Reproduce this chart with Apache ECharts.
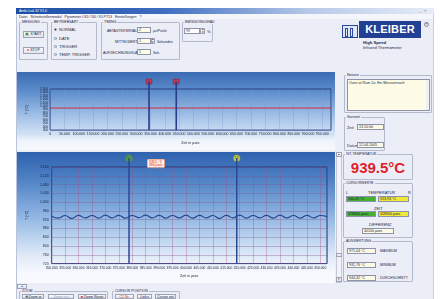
<!DOCTYPE html>
<html>
<head>
<meta charset="utf-8">
<script src="https://cdn.jsdelivr.net/npm/echarts@6/dist/echarts.min.js"></script>
<style>
  html, body { margin: 0; padding: 0; width: 440px; height: 299px; overflow: hidden; background: #fff; }
  body { position: relative; font-family: "Liberation Sans", Arial, sans-serif; color: #1c2541; }
  .a { position: absolute; }
  .t { position: absolute; font-size: 4px; line-height: 4px; white-space: nowrap; color: #1c2541; }
  .g { position: absolute; border: 1px solid #b4b9cc; border-radius: 1px; box-sizing: border-box; }
  .gl { position: absolute; font-size: 3.5px; line-height: 3.5px; background: #eceef7; padding: 0 1px; white-space: nowrap; color: #1c2541; }
  .in { position: absolute; box-sizing: border-box; border: 1px solid #8d93aa; background: #fff; font-size: 3.6px; line-height: 4px; padding-left: 1px; white-space: nowrap; overflow: hidden; }
  .cr { background: #fdfbe6; }
  .btn { position: absolute; box-sizing: border-box; border: 1px solid #9ea4b8; background: linear-gradient(#fafbfd, #dfe2ec); font-size: 3.6px; line-height: 5px; text-align: center; white-space: nowrap; }
  .rd { position: absolute; width: 3px; height: 3px; border-radius: 50%; border: 1px solid #7d8499; background: #fff; box-sizing: border-box; }
  .chart { position: absolute; }
</style>
</head>
<body>
<!-- window -->
<div class="a" style="left:16px;top:8px;width:418px;height:291px;background:#eceef7;border-left:1px solid #b9c3da;border-right:1px solid #c9d0e2;box-sizing:border-box"></div>
<div class="a" style="left:16px;top:8px;width:418px;height:6px;background:linear-gradient(to right,#1d4ea6 0%,#3d6cc0 35%,#b7c9e8 70%,#e6ecf7 100%)"></div>
<div class="t" style="left:19px;top:9px;color:#fff;font-size:3.5px">Ambi-Lsd-32 V1.0</div>
<div class="t" style="left:419px;top:9px;font-size:3.5px;color:#345">_ ▫ ×</div>
<div class="a" style="left:17px;top:14px;width:416px;height:5px;background:#f5f6fb"></div>
<div class="t" style="left:19px;top:14.5px;font-size:3.6px">Datei &nbsp; Schnittstellenmodul &nbsp; Pyrometer LSD 740 / KLP713 &nbsp; Einstellungen &nbsp; ?</div>

<!-- MESSUNG -->
<div class="g" style="left:19px;top:22px;width:29px;height:38px"></div>
<div class="gl" style="left:21px;top:20.5px">MESSUNG</div>
<div class="btn" style="left:23px;top:31px;width:21px;height:7px"><span style="color:#3a8a3a">▣</span> START</div>
<div class="btn" style="left:23px;top:47px;width:21px;height:7px"><span style="color:#d03030">●</span> STOP</div>

<!-- BETRIEBSART -->
<div class="g" style="left:51px;top:22px;width:46px;height:38px"></div>
<div class="gl" style="left:53px;top:20.5px">BETRIEBSART</div>
<div class="rd" style="left:54px;top:28px;background:radial-gradient(#234 35%,#fff 45%)"></div>
<div class="t" style="left:59px;top:28px">NORMAL</div>
<div class="rd" style="left:54px;top:36.5px"></div>
<div class="t" style="left:59px;top:36.5px">DATE</div>
<div class="rd" style="left:54px;top:45px"></div>
<div class="t" style="left:59px;top:45px">TRIGGER</div>
<div class="rd" style="left:54px;top:53px"></div>
<div class="t" style="left:59px;top:53px">TEMP. TRIGGER</div>

<!-- TIMING -->
<div class="g" style="left:101px;top:22px;width:79px;height:38px"></div>
<div class="gl" style="left:103px;top:20.5px">TIMING</div>
<div class="t" style="left:107px;top:28.5px;font-size:3.5px">ABTASTINTERVALL</div>
<div class="in cr" style="left:137px;top:27px;width:14px;height:6px">2</div>
<div class="t" style="left:153px;top:28.5px;font-size:3.5px">µs/Punkt</div>
<div class="t" style="left:115px;top:39.5px;font-size:3.5px">MITTELWERT</div>
<div class="in cr" style="left:137px;top:38px;width:14px;height:6px">1</div>
<div class="btn" style="left:151px;top:38px;width:4px;height:6px;line-height:2.5px;font-size:2.5px">▴<br>▾</div>
<div class="t" style="left:157px;top:39.5px;font-size:3.5px">Sekunden</div>
<div class="t" style="left:103px;top:50.5px;font-size:3.5px">AUFZEICHNUNGSLÄNGE</div>
<div class="in cr" style="left:137px;top:49px;width:14px;height:6px">1</div>
<div class="t" style="left:153px;top:50.5px;font-size:3.5px">Sek.</div>

<!-- EMISSIONSGRAD -->
<div class="g" style="left:182px;top:22px;width:31px;height:20px"></div>
<div class="gl" style="left:184px;top:20.5px">EMISSIONSGRAD</div>
<div class="in" style="left:184px;top:28px;width:16px;height:6px">99</div>
<div class="btn" style="left:200px;top:28px;width:5px;height:6px;line-height:2.5px;font-size:2.5px">▴<br>▾</div>
<div class="t" style="left:207px;top:30px">%</div>

<!-- logo -->
<div class="a" style="left:342px;top:25px;width:16px;height:13px;border:1px solid #2a4a9a;box-sizing:border-box;background:#dfe6f4"></div>
<div class="a" style="left:345px;top:28px;width:3px;height:9px;border:1px solid #2a4a9a;box-sizing:border-box"></div>
<div class="a" style="left:350px;top:28px;width:3px;height:9px;border:1px solid #2a4a9a;box-sizing:border-box"></div>
<div class="a" style="left:359px;top:21px;width:62px;height:17px;background:#213f93;color:#fff;font:bold 11px/17px 'Liberation Sans',Arial;text-align:center;letter-spacing:0.2px">KLEIBER</div>
<div class="a" style="left:424px;top:22px;width:5px;height:5px;border:1px solid #8890a0;border-radius:50%;box-sizing:border-box;font-size:3px;line-height:3px;text-align:center;color:#667">R</div>
<div class="t" style="left:363px;top:41px;font-size:4.2px;font-weight:bold">High Speed</div>
<div class="t" style="left:363px;top:45.5px;font-size:4px">Infrared Thermometer</div>

<!-- top chart -->
<div id="overview" class="chart" style="left:17px;top:72px;width:318px;height:78px;background:linear-gradient(to bottom,#3a6cb4 0%,#5d8dcc 25%,#9fbfe6 55%,#d2e2f5 80%,#f0f4fb 88%,#f6f8fc 100%)"></div>

<!-- Notizen -->
<div class="g" style="left:344px;top:75px;width:88px;height:38px"></div>
<div class="gl" style="left:346px;top:73.5px">Notizen</div>
<div class="in cr" style="left:347px;top:79px;width:83px;height:32px;padding-top:1px">Oven at Ram 1a: Ein Messversuch</div>
<div class="a" style="left:426px;top:80px;width:3px;height:30px;background:#eef0f6"></div>

<!-- Startzeit -->
<div class="g" style="left:344px;top:117px;width:41px;height:34px"></div>
<div class="gl" style="left:346px;top:115.5px">Startzeit</div>
<div class="t" style="left:347px;top:126px">Zeit</div>
<div class="in cr" style="left:357px;top:124px;width:27px;height:6px">13:10:00</div>
<div class="t" style="left:347px;top:144px">Datum</div>
<div class="in cr" style="left:357px;top:142px;width:27px;height:6px">12.04.2005</div>

<!-- bottom chart -->
<div id="detail" class="chart" style="left:17px;top:152px;width:318px;height:131px;background:linear-gradient(to bottom,#2f62ae 0%,#4e80c4 20%,#86aedf 45%,#c2d8f1 68%,#e6eef9 82%,#f6f8fd 92%,#f9fafd 100%)"></div>
<div class="a" style="left:336px;top:152px;width:6px;height:131px;background:#f1f3f8;border:1px solid #c5cad8;box-sizing:border-box"></div>
<div class="btn" style="left:336px;top:152px;width:6px;height:5px;font-size:2.5px;line-height:4px">▴</div>
<div class="btn" style="left:336px;top:253px;width:6px;height:4px"></div>
<div class="btn" style="left:336px;top:277px;width:6px;height:5px;font-size:2.5px;line-height:4px">▾</div>

<!-- IST-TEMPERATUR -->
<div class="g" style="left:343px;top:154px;width:70px;height:26px"></div>
<div class="gl" style="left:345px;top:152.5px">IST-TEMPERATUR</div>
<div class="a" style="left:343px;top:159px;width:70px;text-align:center;color:#e01f2d;font:bold 15px/17px 'Liberation Sans',Arial">939.5°C</div>

<!-- CURSORWERTE -->
<div class="g" style="left:343px;top:183px;width:70px;height:55px"></div>
<div class="gl" style="left:345px;top:181.5px">CURSORWERTE</div>
<div class="t" style="left:346px;top:191px">L</div>
<div class="t" style="left:368px;top:191px">TEMPERATUR</div>
<div class="t" style="left:408px;top:191px">R</div>
<div class="in" style="left:346px;top:196px;width:30px;height:6px;background:#45b034">940,49 °C</div>
<div class="in" style="left:378px;top:196px;width:31px;height:6px;background:#efe834">923,93 °C</div>
<div class="t" style="left:374px;top:207px">ZEIT</div>
<div class="in" style="left:346px;top:211px;width:30px;height:6px;background:#45b034">378800 µsec</div>
<div class="in" style="left:378px;top:211px;width:31px;height:6px;background:#efe834">418900 µsec</div>
<div class="t" style="left:369px;top:223px">DIFFERENZ</div>
<div class="in cr" style="left:362px;top:228px;width:32px;height:6px">40100 µsec</div>

<!-- AUSWERTUNG -->
<div class="g" style="left:343px;top:241px;width:70px;height:41px"></div>
<div class="gl" style="left:345px;top:239.5px">AUSWERTUNG</div>
<div class="in cr" style="left:347px;top:248px;width:29px;height:6px">971,04 °C</div>
<div class="t" style="left:380px;top:249px;font-size:3.5px">MAXIMUM</div>
<div class="in cr" style="left:347px;top:262px;width:29px;height:6px">931,76 °C</div>
<div class="t" style="left:380px;top:263px;font-size:3.5px">MINIMUM</div>
<div class="in cr" style="left:347px;top:275px;width:29px;height:6px">944,42 °C</div>
<div class="t" style="left:380px;top:276px;font-size:3.5px">DURCHSCHNITT</div>

<!-- bottom controls -->
<div class="btn" style="left:17px;top:284px;width:10px;height:5px;font-size:2.5px;line-height:4px">◂</div>
<div class="g" style="left:19px;top:291px;width:89px;height:12px"></div>
<div class="gl" style="left:21px;top:289.5px">ZOOM</div>
<div class="btn" style="left:22px;top:294px;width:22px;height:5px;line-height:4px">⊕ Zoom in</div>
<div class="btn" style="left:48px;top:294px;width:26px;height:5px;line-height:4px;color:#a0a4b0">Zoom out</div>
<div class="btn" style="left:78px;top:294px;width:28px;height:5px;line-height:4px"><span style="color:#d03030">■</span> Zoom Reset</div>
<div class="g" style="left:112px;top:291px;width:68px;height:12px"></div>
<div class="gl" style="left:114px;top:289.5px">CURSOR POSITION</div>
<div class="btn" style="left:115px;top:294px;width:19px;height:5px;line-height:4px;color:#d03030">C1 Nr.</div>
<div class="btn" style="left:137px;top:294px;width:15px;height:5px;line-height:4px">Links</div>
<div class="btn" style="left:155px;top:294px;width:21px;height:5px;line-height:4px">Cursor set</div>

<script>
// overview trace (whole recording)
const overviewTime = [0, 98000, 196000, 294000, 392000, 490000, 588000, 686000, 784000, 882000, 980000];
const overviewTemp = [944, 943, 945, 944, 945, 944, 946, 945, 944, 945, 944];
const overviewCursors = [345000, 440000];

// zoomed trace between the cursors
const waveTime = [350000, 352500, 355000, 357500, 360000, 362500, 365000, 367500, 370000, 372500,
  375000, 377500, 380000, 382500, 385000, 387500, 390000, 392500, 395000, 397500,
  400000, 402500, 405000, 407500, 410000, 412500, 415000, 417500, 420000, 422500,
  425000, 427500, 430000, 432500, 435000, 437500, 440000, 442500, 445000, 447500,
  450000, 452500];
const waveTemp = [936, 927, 939, 926, 940, 928, 939, 927, 941, 928,
  940, 927, 939, 929, 941, 928, 940, 927, 939, 928,
  941, 927, 940, 928, 939, 926, 940, 928, 941, 927,
  939, 928, 940, 927, 941, 928, 939, 927, 940, 928,
  939, 934];
const detailCursors = [378800, 418900];
const detailCursorNames = ["C1", "C2"];
const detailCursorColors = ["#5bb033", "#e8e23a"];

const fmt = v => String(v).replace(/\B(?=(\d{3})+(?!\d))/g, ".");
const txt = "#17203d";

const overview = echarts.init(document.getElementById("overview"));
const ovCursorSeries = [];
overviewCursors.forEach(c => {
  ovCursorSeries.push({
    type: "line", clip: false, symbol: "none", silent: true,
    data: [[c, 300], [c, 1716]],
    lineStyle: { color: "#283c8a", width: 1.6 },
  });
  ovCursorSeries.push({
    type: "scatter", clip: false, symbol: "rect", symbolSize: [6, 5], silent: true,
    data: [[c, 1716]],
    itemStyle: { color: "#d62a3c", borderColor: "#8a1020", borderWidth: 0.5 },
  });
});
overview.setOption({
  animation: false,
  backgroundColor: "transparent",
  grid: { left: 27, right: 4, top: 17, bottom: 11, show: true, borderColor: "#2a3f80", borderWidth: 1 },
  xAxis: {
    type: "value", min: 0, max: 980000, interval: 50000,
    name: "Zeit in µsec", nameLocation: "middle", nameGap: 6,
    nameTextStyle: { fontSize: 3.6, color: txt },
    axisLine: { show: false }, axisTick: { show: false },
    axisLabel: { fontSize: 3.5, color: txt, margin: 2, formatter: fmt },
    splitLine: { show: true, lineStyle: { color: "rgba(120,150,200,0.55)", width: 0.6 } },
  },
  yAxis: {
    type: "value", min: 300, max: 1500, interval: 100,
    name: "T [°C]", nameLocation: "middle", nameGap: 14,
    nameTextStyle: { fontSize: 3.6, color: txt },
    axisLine: { show: false }, axisTick: { show: false },
    axisLabel: { fontSize: 3.3, color: txt, margin: 2, formatter: fmt },
    splitLine: { show: false },
  },
  series: [
    {
      type: "line", symbol: "none", silent: true,
      data: overviewTime.map((t, i) => [t, overviewTemp[i]]),
      lineStyle: { color: "#d3283d", width: 1 },
    },
  ].concat(ovCursorSeries),
});

const detail = echarts.init(document.getElementById("detail"));
const dtCursorSeries = [];
detailCursors.forEach((c, i) => {
  dtCursorSeries.push({
    type: "line", clip: false, symbol: "none", silent: true,
    data: [[c, 720], [c, 1200]],
    lineStyle: { color: "#2a4796", width: 1.5 },
  });
  dtCursorSeries.push({
    type: "scatter", clip: false, symbol: "circle", symbolSize: 7, silent: true,
    data: [[c, 1200]],
    itemStyle: { color: detailCursorColors[i], borderColor: "#4a6a30", borderWidth: 0.4 },
    label: { show: true, position: "inside", formatter: detailCursorNames[i], fontSize: 3, color: "#223" },
  });
});
detail.setOption({
  animation: false,
  backgroundColor: "transparent",
  grid: { left: 29, right: 8, top: 15, bottom: 17, show: true, borderColor: "#213778", borderWidth: 1 },
  xAxis: {
    type: "value", min: 350000, max: 452500, interval: 5000,
    name: "Zeit in µsec", nameLocation: "middle", nameGap: 7,
    nameTextStyle: { fontSize: 3.6, color: txt },
    axisLine: { show: false }, axisTick: { show: false },
    axisLabel: { fontSize: 3.3, color: txt, margin: 2.5, formatter: fmt },
    splitLine: { show: true, lineStyle: { color: "rgba(160,80,130,0.5)", width: 0.7 } },
  },
  yAxis: {
    type: "value", min: 720, max: 1160, interval: 40,
    name: "T [°C]", nameLocation: "middle", nameGap: 16,
    nameTextStyle: { fontSize: 3.6, color: txt },
    axisLine: { show: false }, axisTick: { show: false },
    axisLabel: { fontSize: 3.5, color: txt, margin: 3, formatter: fmt },
    splitLine: { show: true, lineStyle: { color: "rgba(130,80,140,0.5)", width: 0.7 } },
  },
  graphic: [{
    type: "text", left: 130, top: 7, silent: true,
    style: {
      text: "939,5 °C\n390 µsec", fill: "#d42020", fontSize: 3.4, lineHeight: 3.6,
      backgroundColor: "#fff2e4", borderColor: "#e07a50", borderWidth: 0.5, padding: [0.5, 1.5],
    },
  }],
  series: [
    {
      type: "line", symbol: "none", smooth: true, silent: true,
      data: waveTime.map((t, i) => [t, waveTemp[i]]),
      lineStyle: { color: "#23468f", width: 1.2 },
    },
  ].concat(dtCursorSeries),
});
</script>
</body>
</html>
